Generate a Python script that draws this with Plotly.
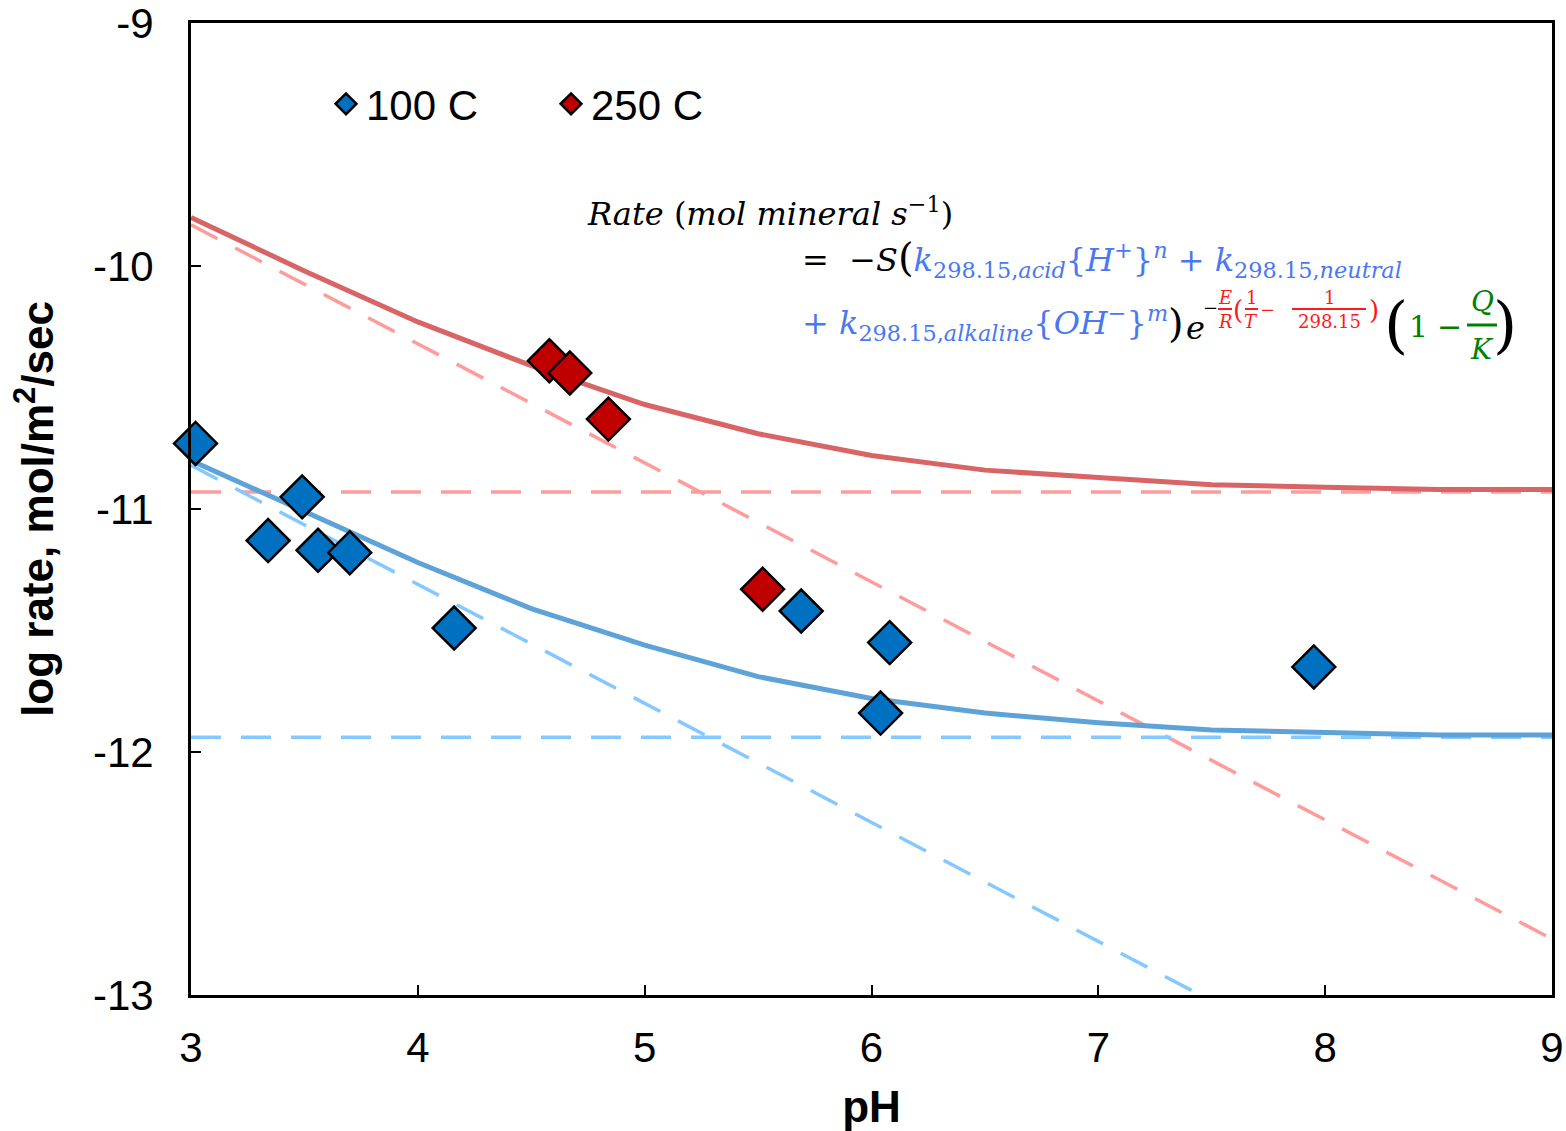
import plotly.graph_objects as go

# ---- measured dissolution rates ----
ph_100 = [3.02, 3.34, 3.49, 3.56, 3.70, 4.16, 5.69, 6.08, 6.04, 7.95]
rate_100 = [-10.73, -11.13, -10.95, -11.17, -11.18, -11.49, -11.42, -11.55, -11.84, -11.65]

ph_250 = [4.58, 4.67, 4.84, 5.52]
rate_250 = [-10.39, -10.44, -10.63, -11.33]

# ---- rate-law model curves ----
ph_model = [3.0, 3.5, 4.0, 4.5, 5.0, 5.5, 6.0, 6.5, 7.0, 7.5, 8.0, 8.5, 9.0]
model_250 = [-9.80, -10.02, -10.23, -10.41, -10.57, -10.69, -10.78, -10.84,
             -10.87, -10.90, -10.91, -10.92, -10.92]
model_100 = [-10.80, -11.01, -11.22, -11.41, -11.56, -11.69, -11.78, -11.84,
             -11.88, -11.91, -11.92, -11.93, -11.93]

# acid and neutral mechanism contributions
ph_ends = [3.0, 9.0]
acid_250 = [-9.83, -12.77]
neutral_250 = [-10.93, -10.93]
acid_100 = [-10.82, -13.76]
neutral_100 = [-11.94, -11.94]

x_ticks = [3, 4, 5, 6, 7, 8, 9]
y_ticks = [-13, -12, -11, -10, -9]
y_tick_text = ["-13", "-12", "-11", "-10", "-9"]

BLUE = "#0070c0"
RED = "#c00000"
RED_LINE = "#d86466"
RED_DASH = "#ff9b9b"
BLUE_LINE = "#5ea3d8"
BLUE_DASH = "#84c8ff"
EQ_BLUE = "#4a78f2"
EQ_RED = "#ff1a1a"
EQ_GREEN = "#008000"

fig = go.Figure()

dash = "30px,20px"
fig.add_trace(go.Scatter(x=ph_ends, y=acid_250, mode="lines", showlegend=False,
                         line=dict(color=RED_DASH, width=3.5, dash=dash)))
fig.add_trace(go.Scatter(x=ph_ends, y=neutral_250, mode="lines", showlegend=False,
                         line=dict(color=RED_DASH, width=3.5, dash=dash)))
fig.add_trace(go.Scatter(x=ph_ends, y=acid_100, mode="lines", showlegend=False,
                         line=dict(color=BLUE_DASH, width=3.5, dash=dash)))
fig.add_trace(go.Scatter(x=ph_ends, y=neutral_100, mode="lines", showlegend=False,
                         line=dict(color=BLUE_DASH, width=3.5, dash=dash)))
fig.add_trace(go.Scatter(x=ph_model, y=model_250, mode="lines", showlegend=False,
                         line=dict(color=RED_LINE, width=5)))
fig.add_trace(go.Scatter(x=ph_model, y=model_100, mode="lines", showlegend=False,
                         line=dict(color=BLUE_LINE, width=5)))

fig.add_trace(go.Scatter(x=ph_100, y=rate_100, mode="markers", name="100 C",
                         cliponaxis=False,
                         marker=dict(symbol="diamond", size=33, color=BLUE,
                                     line=dict(color="black", width=2.5))))
fig.add_trace(go.Scatter(x=ph_250, y=rate_250, mode="markers", name="250 C",
                         cliponaxis=False,
                         marker=dict(symbol="diamond", size=33, color=RED,
                                     line=dict(color="black", width=2.5))))

# ---- plot-area geometry in pixels ----
L, R, T, B = 191, 1552, 23, 995
W, H = R - L, B - T


def px(x):
    return (x - L) / W


def py(y):
    return (B - y) / H


MATH = "DejaVu Serif"
annotations = []


def note(x, y, text, size=32, color="black", anchor="left", family=MATH):
    annotations.append(dict(x=px(x), y=py(y), xref="paper", yref="paper",
                            text=text, showarrow=False, xanchor=anchor,
                            yanchor="middle",
                            font=dict(family=family, size=size, color=color)))


shapes = []


def bar(x0, x1, y, color, width=2):
    shapes.append(dict(type="line", xref="paper", yref="paper",
                       x0=px(x0), x1=px(x1), y0=py(y), y1=py(y),
                       line=dict(color=color, width=width)))


# rate law written out above the data
note(585, 212, "<i>Rate</i> (<i>mol mineral s</i><sup>−1</sup>)")
note(800, 258,
     "=  −<i>S</i><span style='font-size:40px'>(</span>"
     f"<span style='color:{EQ_BLUE}'><i>k</i><sub>298.15,<i>acid</i></sub>"
     "{<i>H</i><sup>+</sup>}<sup><i>n</i></sup> + "
     "<i>k</i><sub>298.15,<i>neutral</i></sub></span>")
note(800, 323,
     f"<span style='color:{EQ_BLUE}'>+ <i>k</i><sub>298.15,<i>alkaline</i></sub>"
     "{<i>OH</i><sup>−</sup>}<sup><i>m</i></sup></span>")
note(1176, 323, "<span style='font-size:40px'>)</span>", anchor="center")
note(1195, 328, "<i>e</i>", anchor="center")
note(1210, 308, "−", size=18, anchor="center")
# exponent: -(E/R)(1/T - 1/298.15)
note(1225, 297, "<i>E</i>", size=18, color=EQ_RED, anchor="center")
note(1225, 321, "<i>R</i>", size=18, color=EQ_RED, anchor="center")
bar(1218, 1232, 309, EQ_RED)
note(1238, 310, "(", size=26, color=EQ_RED, anchor="center")
note(1251, 297, "1", size=18, color=EQ_RED, anchor="center")
note(1251, 321, "<i>T</i>", size=18, color=EQ_RED, anchor="center")
bar(1245, 1258, 309, EQ_RED)
note(1267, 309, "−", size=18, color=EQ_RED, anchor="center")
note(1329, 297, "1", size=18, color=EQ_RED, anchor="center")
note(1329, 321, "298.15", size=18, color=EQ_RED, anchor="center")
bar(1292, 1366, 309, EQ_RED)
note(1374, 310, ")", size=26, color=EQ_RED, anchor="center")
# saturation term (1 - Q/K)
note(1396, 324, "(", size=62, anchor="center")
note(1418, 326, "1", size=30, color=EQ_GREEN, anchor="center")
note(1449, 326, "−", size=30, color=EQ_GREEN, anchor="center")
note(1482, 301, "<i>Q</i>", size=28, color=EQ_GREEN, anchor="center")
note(1482, 349, "<i>K</i>", size=28, color=EQ_GREEN, anchor="center")
bar(1467, 1497, 325, EQ_GREEN, width=3)
note(1505, 324, ")", size=62, anchor="center")

SANS = "Liberation Sans"
axis_common = dict(showline=True, linecolor="black", linewidth=3, mirror=True,
                   ticks="inside", ticklen=10, tickwidth=2, tickcolor="black",
                   showgrid=False, zeroline=False, automargin=False,
                   ticklabeloverflow="allow",
                   tickfont=dict(family=SANS, size=42, color="black"))

fig.update_layout(
    width=1566, height=1131, autosize=False,
    margin=dict(l=L, r=1566 - R, t=T, b=1131 - B),
    plot_bgcolor="white", paper_bgcolor="white",
    xaxis=dict(range=[3, 9], tickvals=x_ticks, ticklabelstandoff=14,
               title=dict(text="<b>pH</b>", standoff=30,
                          font=dict(family=SANS, size=44, color="black")),
               **axis_common),
    yaxis=dict(range=[-13.0005, -8.9995], tickvals=y_ticks, ticktext=y_tick_text,
               ticklabelstandoff=26,
               title=dict(text="<b>log rate, mol/m<sup>2</sup>/sec</b>", standoff=26,
                          font=dict(family=SANS, size=44, color="black")),
               **axis_common),
    legend=dict(orientation="h", x=px(326), y=py(70), xanchor="left", yanchor="top",
                bgcolor="rgba(0,0,0,0)", entrywidth=180, entrywidthmode="pixels",
                font=dict(family=SANS, size=42, color="black")),
    annotations=annotations,
    shapes=shapes,
)

fig.write_html("out.html")
